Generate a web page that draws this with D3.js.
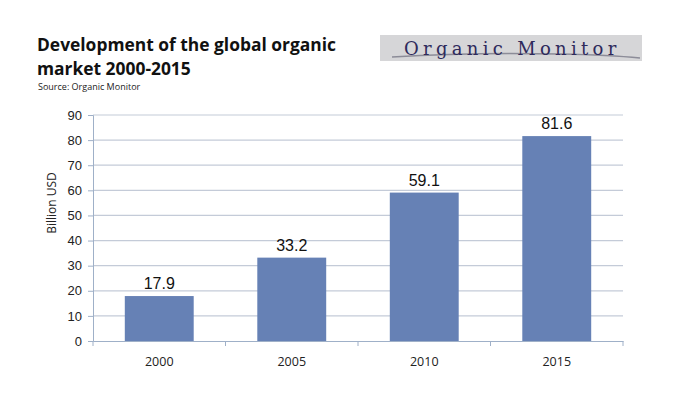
<!DOCTYPE html>
<html>
<head>
<meta charset="utf-8">
<script src="https://cdn.jsdelivr.net/npm/d3@7"></script>
<style>
  body { margin: 0; background: #fff; }
</style>
</head>
<body>
<div id="chart-container"></div>
<script>
var years = ["2000", "2005", "2010", "2015"];
var values = [17.9, 33.2, 59.1, 81.6];
var yTicks = [0, 10, 20, 30, 40, 50, 60, 70, 80, 90];

var width = 695, height = 393;
var margin = { top: 115, right: 72, bottom: 52, left: 93 };
var plotW = width - margin.left - margin.right,
    plotH = height - margin.top - margin.bottom;

var svg = d3.select("#chart-container")
    .append("svg")
    .attr("width", width)
    .attr("height", height);

// title block
svg.append("text")
    .attr("x", 37).attr("y", 51)
    .style("font-family", "Open Sans, sans-serif")
    .style("font-weight", "bold")
    .style("font-size", "17.4px")
    .style("fill", "#111")
    .text("Development of the global organic");
svg.append("text")
    .attr("x", 37).attr("y", 75)
    .style("font-family", "Open Sans, sans-serif")
    .style("font-weight", "bold")
    .style("font-size", "17.4px")
    .style("fill", "#111")
    .text("market 2000-2015");
svg.append("text")
    .attr("x", 38).attr("y", 90)
    .style("font-family", "Open Sans, sans-serif")
    .style("font-size", "9px")
    .style("fill", "#222")
    .text("Source: Organic Monitor");

// logo
var logo = svg.append("g");
logo.append("rect")
    .attr("x", 380).attr("y", 35)
    .attr("width", 262).attr("height", 26)
    .attr("fill", "#d6d6d8");
logo.append("path")
    .attr("d", "M 392 57 Q 470 52 560 54 Q 610 55 640 58")
    .attr("fill", "none")
    .attr("stroke", "#8c8c98")
    .attr("stroke-width", 1.4);
logo.append("text")
    .attr("x", 404).attr("y", 55)
    .style("font-family", "DejaVu Serif, Liberation Serif, serif")
    .style("font-size", "18px")
    .style("letter-spacing", "4.3px")
    .style("fill", "#2e2a5c")
    .text("Organic Monitor");

var chart = svg.append("g")
    .attr("transform", "translate(" + margin.left + "," + margin.top + ")");

var x = d3.scaleBand()
    .domain(years)
    .range([0, plotW])
    .paddingInner(0.48)
    .paddingOuter(0.24);

var y = d3.scaleLinear()
    .domain([0, 90])
    .range([plotH, 0]);

// gridlines
chart.selectAll(".grid")
    .data(yTicks.slice(1))
    .enter()
    .append("line")
    .attr("x1", 0).attr("x2", plotW)
    .attr("y1", function (d) { return y(d); })
    .attr("y2", function (d) { return y(d); })
    .attr("stroke", "#c4cbd8")
    .attr("stroke-width", 1.2);

// y axis
var yAxis = d3.axisLeft(y).tickValues(yTicks).tickSize(5).tickPadding(6);
var gy = chart.append("g").call(yAxis);
gy.select(".domain").attr("stroke", "#9fb0c8");
gy.selectAll(".tick line").attr("stroke", "#9fb0c8");
gy.selectAll(".tick text")
    .style("font-family", "Liberation Sans, Arial, sans-serif")
    .style("font-size", "13px")
    .style("fill", "#222");

// x axis
var xAxis = d3.axisBottom(x).tickSize(0).tickPadding(16);
var gx = chart.append("g")
    .attr("transform", "translate(0," + plotH + ")")
    .call(xAxis);
gx.select(".domain").attr("stroke", "#9fb0c8");
gx.selectAll(".tick text")
    .style("font-family", "Open Sans, sans-serif")
    .style("font-size", "12.5px")
    .style("fill", "#222");
// category boundary ticks
gx.selectAll(".sep")
    .data(d3.range(years.length + 1))
    .enter()
    .append("line")
    .attr("x1", function (i) { return i * plotW / years.length; })
    .attr("x2", function (i) { return i * plotW / years.length; })
    .attr("y1", 0).attr("y2", 5)
    .attr("stroke", "#9fb0c8");

// bars
chart.selectAll(".bar")
    .data(values)
    .enter()
    .append("rect")
    .attr("x", function (d, i) { return x(years[i]); })
    .attr("y", function (d) { return y(d); })
    .attr("width", x.bandwidth())
    .attr("height", function (d) { return plotH - y(d); })
    .attr("fill", "#6681b5");

// value labels
chart.selectAll(".val")
    .data(values)
    .enter()
    .append("text")
    .attr("x", function (d, i) { return x(years[i]) + x.bandwidth() / 2; })
    .attr("y", function (d) { return y(d) - 7; })
    .attr("text-anchor", "middle")
    .style("font-family", "Liberation Sans, Arial, sans-serif")
    .style("font-size", "16px")
    .style("fill", "#111")
    .text(function (d) { return d.toFixed(1); });

// y label
svg.append("text")
    .attr("transform", "translate(56,203) rotate(-90)")
    .attr("text-anchor", "middle")
    .style("font-family", "Open Sans, sans-serif")
    .style("font-size", "12px")
    .style("fill", "#222")
    .text("Billion USD");
</script>
</body>
</html>
